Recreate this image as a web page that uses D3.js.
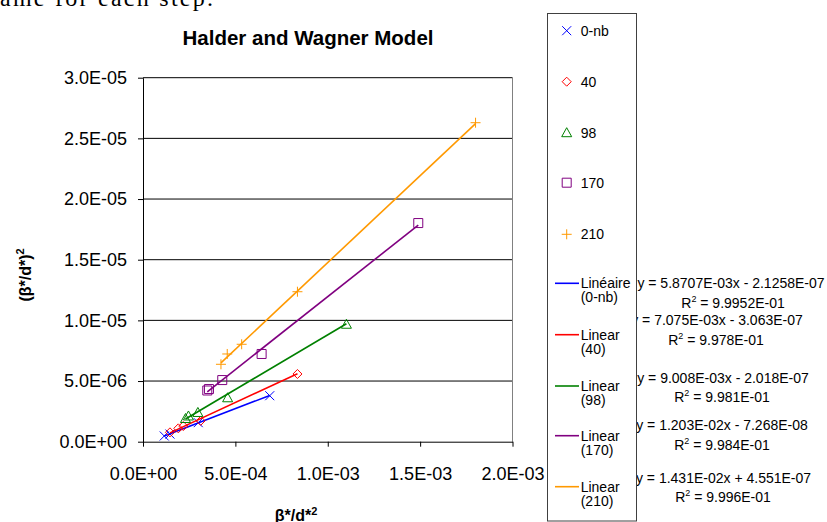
<!DOCTYPE html>
<html>
<head>
<meta charset="utf-8">
<script src="https://cdn.jsdelivr.net/npm/d3@7"></script>
<style>
  body { margin: 0; background: #fff; }
  svg { display: block; font-family: "Liberation Sans", Arial, sans-serif; }
</style>
</head>
<body>
<svg id="svg"></svg>
<script>
// data
var seriesNames = ['0-nb', '40', '98', '170', '210'];
var colors = ['#0000ff', '#ff0000', '#008000', '#800080', '#ff9900'];
var shapes = ['x', 'diamond', 'triangle', 'square', 'plus'];

var x0nb = [1.15e-4, 1.46e-4, 2.99e-4, 6.86e-4];
var y0nb = [0.47e-6, 0.63e-6, 1.57e-6, 3.79e-6];
var x40 = [1.46e-4, 1.91e-4, 2.18e-4, 3.12e-4, 8.36e-4];
var y40 = [0.77e-6, 1.10e-6, 1.29e-6, 1.72e-6, 5.58e-6];
var x98 = [2.30e-4, 2.46e-4, 2.97e-4, 4.58e-4, 1.101e-3];
var y98 = [1.91e-6, 2.12e-6, 2.41e-6, 3.62e-6, 9.68e-6];
var x170 = [3.48e-4, 3.57e-4, 4.29e-4, 6.42e-4, 1.490e-3];
var y170 = [4.22e-6, 4.34e-6, 5.08e-6, 7.23e-6, 18.02e-6];
var x210 = [4.22e-4, 4.56e-4, 5.34e-4, 8.36e-4, 1.80e-3];
var y210 = [6.38e-6, 7.23e-6, 8.03e-6, 12.36e-6, 26.29e-6];

var slopes = [5.8707e-3, 7.075e-3, 9.008e-3, 1.203e-2, 1.431e-2];
var intercepts = [-2.1258e-7, -3.063e-7, -2.018e-7, -7.268e-8, 4.551e-7];
var eqTexts = ['y = 5.8707E-03x - 2.1258E-07', 'y = 7.075E-03x - 3.063E-07',
  'y = 9.008E-03x - 2.018E-07', 'y = 1.203E-02x - 7.268E-08', 'y = 1.431E-02x + 4.551E-07'];
var r2Texts = ['9.9952E-01', '9.978E-01', '9.981E-01', '9.984E-01', '9.996E-01'];
var trendLabels = [['Linéaire', '(0-nb)'], ['Linear', '(40)'], ['Linear', '(98)'], ['Linear', '(170)'], ['Linear', '(210)']];

var xTicks = [0, 5e-4, 1e-3, 1.5e-3, 2e-3];
var yTicks = [0, 5e-6, 1e-5, 1.5e-5, 2e-5, 2.5e-5, 3e-5];

var allX = [x0nb, x40, x98, x170, x210];
var allY = [y0nb, y40, y98, y170, y210];

var width = 827, height = 522;
var svg = d3.select('#svg').attr('width', width).attr('height', height);

var x = d3.scaleLinear().domain([0, 2e-3]).range([143, 512.5]);
var y = d3.scaleLinear().domain([0, 3e-5]).range([441.7, 77.7]);

function sci(v) {
  if (v === 0) return '0.0E+00';
  var e = Math.floor(Math.log10(Math.abs(v)) + 1e-9);
  var m = v / Math.pow(10, e);
  var ae = Math.abs(e);
  return m.toFixed(1) + 'E' + (e < 0 ? '-' : '+') + (ae < 10 ? '0' : '') + ae;
}

// cut-off document text at the top
svg.append('text')
  .attr('x', 0).attr('y', 5.5)
  .attr('textLength', 213).attr('lengthAdjust', 'spacing')
  .style('font-family', '"Liberation Serif", "Times New Roman", serif')
  .style('font-size', '24px')
  .text('ame for each step.');

// title
svg.append('text')
  .attr('x', 308).attr('y', 44.5)
  .attr('text-anchor', 'middle')
  .style('font-size', '20.5px').style('font-weight', 'bold')
  .text('Halder and Wagner Model');

// gridlines
svg.append('g').selectAll('line')
  .data(yTicks.slice(1))
  .enter().append('line')
  .attr('x1', x(0)).attr('x2', x(2e-3))
  .attr('y1', function (d) { return y(d); })
  .attr('y2', function (d) { return y(d); })
  .attr('stroke', '#000').attr('stroke-width', 1);

// plot border right side
svg.append('line')
  .attr('x1', x(2e-3)).attr('x2', x(2e-3))
  .attr('y1', y(3e-5)).attr('y2', y(0))
  .attr('stroke', '#808080').attr('stroke-width', 1);

// axes
var yAxis = svg.append('g')
  .attr('transform', 'translate(' + x(0) + ',0)')
  .call(d3.axisLeft(y).tickValues(yTicks).tickFormat(sci).tickSize(5).tickSizeOuter(0).tickPadding(11));
var xAxis = svg.append('g')
  .attr('transform', 'translate(0,' + y(0) + ')')
  .call(d3.axisBottom(x).tickValues(xTicks).tickFormat(sci).tickSize(5).tickSizeOuter(0).tickPadding(21));
[xAxis, yAxis].forEach(function (a) {
  a.selectAll('text').style('font-size', '18px').style('font-family', '"Liberation Sans", Arial, sans-serif').attr('fill', '#000');
  a.selectAll('line').attr('stroke', '#000');
  a.select('.domain').attr('stroke', '#000');
});

// axis titles
var xl = svg.append('text')
  .attr('x', 296).attr('y', 520.5)
  .attr('text-anchor', 'middle')
  .style('font-size', '16px').style('font-weight', 'bold');
xl.append('tspan').text('β*/d*');
xl.append('tspan').attr('dy', -6).style('font-size', '11px').text('2');

var yl = svg.append('text')
  .attr('transform', 'translate(31,275) rotate(-90)')
  .attr('text-anchor', 'middle')
  .style('font-size', '16px').style('font-weight', 'bold');
yl.append('tspan').text('(β*/d*)');
yl.append('tspan').attr('dy', -7).style('font-size', '11px').text('2');

// marker paths
function markerPath(shape, cx, cy) {
  var p = d3.path();
  if (shape === 'x') {
    p.moveTo(cx - 4.5, cy - 4.5); p.lineTo(cx + 4.5, cy + 4.5);
    p.moveTo(cx + 4.5, cy - 4.5); p.lineTo(cx - 4.5, cy + 4.5);
  } else if (shape === 'diamond') {
    p.moveTo(cx, cy - 4.5); p.lineTo(cx + 4.5, cy); p.lineTo(cx, cy + 4.5); p.lineTo(cx - 4.5, cy); p.closePath();
  } else if (shape === 'triangle') {
    p.moveTo(cx, cy - 5); p.lineTo(cx + 5, cy + 4); p.lineTo(cx - 5, cy + 4); p.closePath();
  } else if (shape === 'square') {
    p.rect(cx - 4.5, cy - 4.5, 9, 9);
  } else {
    p.moveTo(cx - 5, cy); p.lineTo(cx + 5, cy);
    p.moveTo(cx, cy - 5); p.lineTo(cx, cy + 5);
  }
  return p.toString();
}

// trendlines and markers
seriesNames.forEach(function (name, i) {
  var xs = allX[i], ys = allY[i];
  var x1 = d3.min(xs), x2 = d3.max(xs);
  svg.append('line')
    .attr('x1', x(x1)).attr('y1', y(slopes[i] * x1 + intercepts[i]))
    .attr('x2', x(x2)).attr('y2', y(slopes[i] * x2 + intercepts[i]))
    .attr('stroke', colors[i]).attr('stroke-width', 1.6);
  svg.append('g').selectAll('path')
    .data(xs.map(function (v, j) { return [v, ys[j]]; }))
    .enter().append('path')
    .attr('d', function (d) { return markerPath(shapes[i], x(d[0]), y(d[1])); })
    .attr('fill', 'none').attr('stroke', colors[i]).attr('stroke-width', 1);
});

// trendline equations (drawn before the legend so it covers them)
var eqCx = [731, 717, 723, 722, 723.5];
var eqY = [288, 325, 382.7, 430, 482.7];
var r2Cx = [733, 716, 722, 722, 723];
eqTexts.forEach(function (t, i) {
  svg.append('text')
    .attr('x', eqCx[i]).attr('y', eqY[i])
    .attr('text-anchor', 'middle')
    .style('font-size', '14px')
    .text(t);
  var r = svg.append('text')
    .attr('x', r2Cx[i]).attr('y', eqY[i] + 19.5)
    .attr('text-anchor', 'middle')
    .style('font-size', '14px');
  r.append('tspan').text('R');
  r.append('tspan').attr('dy', -6).style('font-size', '9px').text('2');
  r.append('tspan').attr('dy', 6).text(' = ' + r2Texts[i]);
});

// legend
var lg = svg.append('g');
lg.append('rect')
  .attr('x', 547.5).attr('y', 13.5).attr('width', 89).attr('height', 507.5)
  .attr('fill', '#fff').attr('stroke', '#404040').attr('stroke-width', 1);

var legMarkY = [30.7, 81.7, 132.7, 182.7, 234.3];
seriesNames.forEach(function (name, i) {
  lg.append('path')
    .attr('d', markerPath(shapes[i], 566.7, legMarkY[i]))
    .attr('fill', 'none').attr('stroke', colors[i]).attr('stroke-width', 1);
  lg.append('text')
    .attr('x', 580.7).attr('y', legMarkY[i] + 5)
    .style('font-size', '14px')
    .text(name);
});

var legLineY = [283.3, 334.7, 386, 435.7, 486.7];
trendLabels.forEach(function (lbl, i) {
  lg.append('line')
    .attr('x1', 555).attr('x2', 579)
    .attr('y1', legLineY[i]).attr('y2', legLineY[i])
    .attr('stroke', colors[i]).attr('stroke-width', 1.6);
  lg.append('text')
    .attr('x', 580.7).attr('y', legLineY[i] + 5)
    .style('font-size', '14px').text(lbl[0]);
  lg.append('text')
    .attr('x', 580.7).attr('y', legLineY[i] + 19)
    .style('font-size', '14px').text(lbl[1]);
});
</script>
</body>
</html>
